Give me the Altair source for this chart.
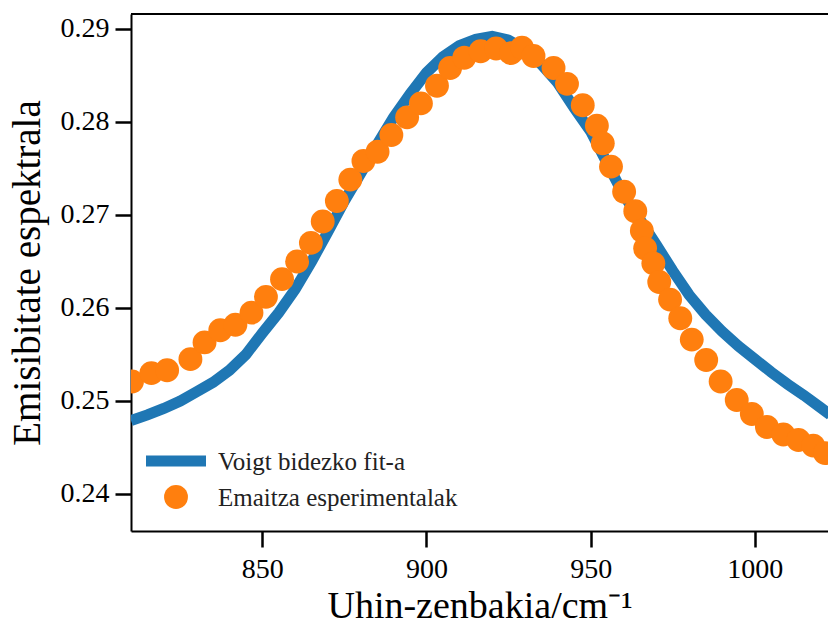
import altair as alt
import pandas as pd

# Voigt profile fit, sampled across the band
fit_x = [810, 815, 820, 825, 830, 835, 840, 845, 850, 855, 860, 865, 870, 875,
         880, 885, 890, 895, 900, 905, 910, 915, 920, 925, 930, 935, 940, 945,
         950, 955, 960, 965, 970, 975, 980, 985, 990, 995, 1000, 1005, 1010,
         1015, 1020, 1023]
fit_y = [0.2479, 0.2485, 0.2492, 0.2500, 0.2510, 0.2520, 0.2533, 0.2550, 0.2573,
         0.2595, 0.2620, 0.2650, 0.2682, 0.2715, 0.2745, 0.2776, 0.2805, 0.2830,
         0.2853, 0.2870, 0.2882, 0.2889, 0.2892, 0.2888, 0.2878, 0.2862, 0.2842,
         0.2815, 0.2790, 0.2756, 0.2722, 0.2695, 0.2668, 0.2640, 0.2614, 0.2593,
         0.2575, 0.2559, 0.2545, 0.2531, 0.2518, 0.2506, 0.2493, 0.2485]

# Measured spectral emissivity
exp_x = [810.3, 816.2, 821.0, 828.1, 832.4, 837.2, 841.8, 846.7, 851.1, 856.0,
         860.6, 864.8, 868.4, 872.7, 876.8, 880.8, 885.1, 889.3, 894.1, 898.3,
         903.2, 907.2, 911.5, 916.5, 921.2, 925.7, 929.1, 932.6, 938.7, 942.8,
         947.6, 951.9, 953.7, 956.2, 960.2, 963.6, 965.6, 966.6, 969.1, 970.9,
         974.2, 977.3, 980.8, 985.2, 989.6, 994.5, 999.1, 1003.7, 1008.7, 1013.3,
         1017.8, 1021.4]
exp_y = [0.2521, 0.2530, 0.2533, 0.2545, 0.2563, 0.2576, 0.2582, 0.2595, 0.2612,
         0.2631, 0.2650, 0.2670, 0.2693, 0.2715, 0.2738, 0.2758, 0.2768, 0.2786,
         0.2805, 0.2820, 0.2839, 0.2858, 0.2869, 0.2876, 0.2879, 0.2874, 0.2880,
         0.2871, 0.2858, 0.2841, 0.2818, 0.2796, 0.2777, 0.2752, 0.2725, 0.2704,
         0.2683, 0.2664, 0.2648, 0.2628, 0.2609, 0.2589, 0.2566, 0.2544, 0.2521,
         0.2501, 0.2486, 0.2472, 0.2464, 0.2458, 0.2452, 0.2444]

x_ticks = [850, 900, 950, 1000]
y_ticks = [0.24, 0.25, 0.26, 0.27, 0.28, 0.29]
fit_label = "Voigt bidezko fit-a"
exp_label = "Emaitza esperimentalak"

BLUE = "#1f77b4"
ORANGE = "#ff7f0e"
FONT = "Liberation Serif"
W, H = 697, 517

fit_df = pd.DataFrame({"x": fit_x, "y": fit_y})
exp_df = pd.DataFrame({"x": exp_x, "y": exp_y})

x_scale = alt.Scale(domain=[810.0, 1022.3], nice=False, zero=False)
y_scale = alt.Scale(domain=[0.23602, 0.29161], nice=False, zero=False)

x_axis = alt.Axis(values=x_ticks, format="d", grid=False, title="Uhin-zenbakia/cm⁻¹",
                  labelFont=FONT, labelFontSize=28, labelColor="black", labelPadding=8,
                  tickSize=16, tickWidth=2.5, tickColor="black",
                  domainColor="black", domainWidth=2,
                  titleFont=FONT, titleFontSize=38, titleFontWeight="normal",
                  titleColor="black", titlePadding=4)
y_axis = alt.Axis(values=y_ticks, format=".2f", grid=False, title="Emisibitate espektrala",
                  labelFont=FONT, labelFontSize=28, labelColor="black", labelPadding=6,
                  tickSize=16, tickWidth=2.5, tickColor="black",
                  domainColor="black", domainWidth=2,
                  titleFont=FONT, titleFontSize=39, titleFontWeight="normal",
                  titleColor="black", titlePadding=13)

fit_line = alt.Chart(fit_df).mark_line(color=BLUE, strokeWidth=11, clip=True).encode(
    x=alt.X("x:Q", scale=x_scale, axis=x_axis),
    y=alt.Y("y:Q", scale=y_scale, axis=y_axis),
)

exp_points = alt.Chart(exp_df).mark_circle(color=ORANGE, size=570, opacity=1, clip=True).encode(
    x=alt.X("x:Q", scale=x_scale),
    y=alt.Y("y:Q", scale=y_scale),
)

one = pd.DataFrame({"k": [0]})

# top spine of the frame
top_spine = alt.Chart(one).mark_rule(color="black", strokeWidth=2).encode(
    x=alt.value(0), x2=alt.value(W), y=alt.value(0)
)

# legend in the lower-left corner
leg_line = alt.Chart(one).mark_rule(color=BLUE, strokeWidth=11).encode(
    x=alt.value(15), x2=alt.value(75), y=alt.value(447)
)
leg_dot = alt.Chart(one).mark_circle(color=ORANGE, size=570, opacity=1).encode(
    x=alt.value(45), y=alt.value(483)
)
text_style = dict(align="left", baseline="middle", font=FONT, fontSize=25, color="#222222")
leg_text1 = alt.Chart(one).mark_text(text=fit_label, **text_style).encode(
    x=alt.value(87), y=alt.value(448)
)
leg_text2 = alt.Chart(one).mark_text(text=exp_label, **text_style).encode(
    x=alt.value(87), y=alt.value(484)
)

chart = alt.layer(
    fit_line, exp_points, top_spine, leg_line, leg_dot, leg_text1, leg_text2
).properties(
    width=W, height=H,
    padding={"left": 131, "top": 14, "right": 0, "bottom": 97},
    autosize=alt.AutoSizeParams(type="none"),
    background="white",
).configure_view(stroke=None)

chart.save("out.html", embed_options={"renderer": "svg", "actions": False})
